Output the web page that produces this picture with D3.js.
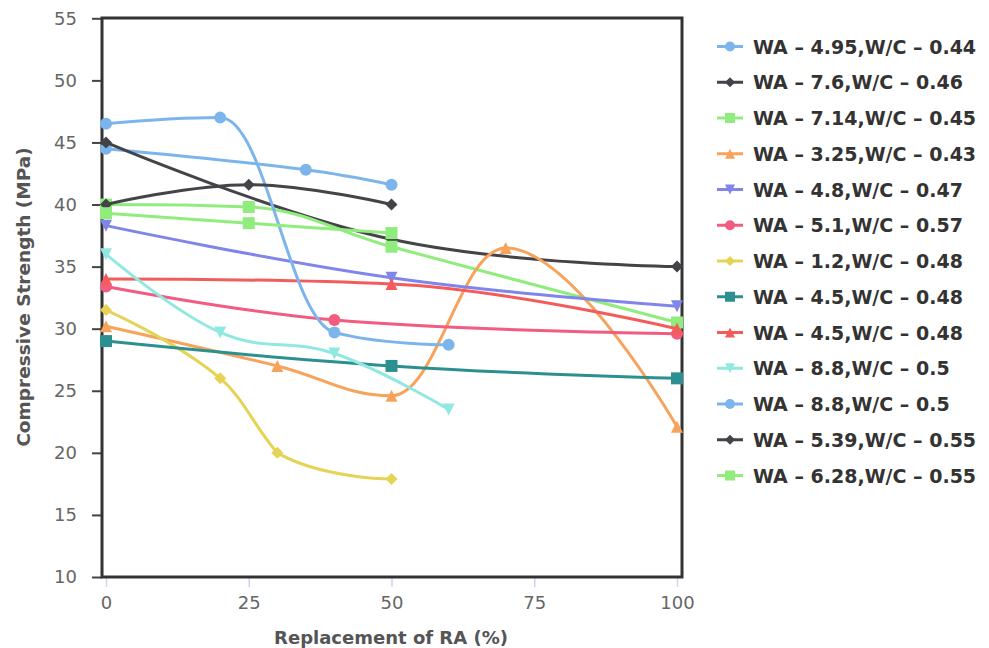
<!DOCTYPE html>
<html>
<head>
<meta charset="utf-8">
<script src="https://cdn.jsdelivr.net/npm/d3@7/dist/d3.min.js"></script>
<style>
  body { margin: 0; background: #fff; }
  text { font-family: "DejaVu Sans", sans-serif; }
</style>
</head>
<body>
<div id="chart"></div>
<script>
// series labels (legend order)
const seriesNames = [
  "WA – 4.95,W/C – 0.44",
  "WA – 7.6,W/C – 0.46",
  "WA – 7.14,W/C – 0.45",
  "WA – 3.25,W/C – 0.43",
  "WA – 4.8,W/C – 0.47",
  "WA – 5.1,W/C – 0.57",
  "WA – 1.2,W/C – 0.48",
  "WA – 4.5,W/C – 0.48",
  "WA – 4.5,W/C – 0.48",
  "WA – 8.8,W/C – 0.5",
  "WA – 8.8,W/C – 0.5",
  "WA – 5.39,W/C – 0.55",
  "WA – 6.28,W/C – 0.55",
];

// replacement of RA (%) per series
const raValues = [
  [0, 35, 50],
  [0, 50, 100],
  [0, 25, 50, 100],
  [0, 30, 50, 70, 100],
  [0, 50, 100],
  [0, 40, 100],
  [0, 20, 30, 50],
  [0, 50, 100],
  [0, 50, 100],
  [0, 20, 40, 60],
  [0, 20, 40, 60],
  [0, 25, 50],
  [0, 25, 50],
];

// compressive strength (MPa) per series
const strengthValues = [
  [44.5, 42.8, 41.6],
  [45, 37.2, 35],
  [40, 39.8, 36.6, 30.5],
  [30.2, 27, 24.6, 36.5, 22.1],
  [38.3, 34.1, 31.8],
  [33.4, 30.7, 29.6],
  [31.5, 26, 20, 17.9],
  [29, 27, 26],
  [34, 33.6, 30],
  [36, 29.7, 28, 23.5],
  [46.5, 47, 29.7, 28.7],
  [40, 41.6, 40],
  [39.3, 38.5, 37.7],
];

const xTicks = [0, 25, 50, 75, 100];
const yTicks = [10, 15, 20, 25, 30, 35, 40, 45, 50, 55];

const palette = ["#7cb5ec", "#434348", "#90ed7d", "#f7a35c", "#8085e9",
  "#f15c80", "#e4d354", "#2b908f", "#f45b5b", "#91e8e1"];
const symbolNames = ["circle", "diamond", "square", "triangle", "triangle-down"];

const W = 989, H = 648;
const plot = { left: 102, top: 18, right: 682, bottom: 577 };

const svg = d3.select("#chart").append("svg")
  .attr("width", W).attr("height", H)
  .attr("viewBox", [0, 0, W, H])
  .style("background-color", "white");

const x = d3.scaleLinear().domain([0, 100]).range([106, 677]);
const y = d3.scaleLinear().domain([10, 55]).range([plot.bottom, 18.3]);

// axes
const xAxis = svg.append("g").attr("transform", `translate(0,${plot.bottom})`)
  .call(d3.axisBottom(x).tickValues(xTicks).tickSize(10).tickPadding(9));
xAxis.select(".domain").remove();
xAxis.selectAll("line").attr("stroke", "#ccd6eb").attr("stroke-width", 1.5);
xAxis.selectAll("text").attr("fill", "#666").style("font-size", "18px");

const yAxis = svg.append("g").attr("transform", `translate(${plot.left},0)`)
  .call(d3.axisLeft(y).tickValues(yTicks).tickSize(10).tickPadding(15));
yAxis.select(".domain").remove();
yAxis.selectAll("line").attr("stroke", "#444").attr("stroke-width", 2);
yAxis.selectAll("text").attr("fill", "#666").style("font-size", "18px");

svg.append("rect")
  .attr("x", plot.left).attr("y", plot.top)
  .attr("width", plot.right - plot.left).attr("height", plot.bottom - plot.top)
  .attr("fill", "none").attr("stroke", "#333").attr("stroke-width", 3);

svg.append("text")
  .attr("x", 391).attr("y", 644)
  .attr("text-anchor", "middle")
  .attr("fill", "#555")
  .style("font-size", "18px").style("font-weight", 700)
  .text("Replacement of RA (%)");

svg.append("text")
  .attr("transform", "translate(30,297) rotate(-90)")
  .attr("text-anchor", "middle")
  .attr("fill", "#555")
  .style("font-size", "18.5px").style("font-weight", 700)
  .text("Compressive Strength (MPa)");

// highcharts-like spline with smoothing 1.5
function splinePath(pts) {
  const s = 1.5, denom = s + 1;
  const n = pts.length;
  const c = pts.map(p => ({ ...p }));
  for (let i = 1; i < n - 1; i++) {
    const p = c[i], last = pts[i - 1], next = pts[i + 1];
    let lcx = (s * p.x + last.x) / denom, lcy = (s * p.y + last.y) / denom;
    let rcx = (s * p.x + next.x) / denom, rcy = (s * p.y + next.y) / denom;
    if (rcx !== lcx) {
      const corr = ((rcy - lcy) * (rcx - p.x)) / (rcx - lcx) + p.y - rcy;
      lcy += corr; rcy += corr;
    }
    if (lcy > last.y && lcy > p.y) { lcy = Math.max(last.y, p.y); rcy = 2 * p.y - lcy; }
    else if (lcy < last.y && lcy < p.y) { lcy = Math.min(last.y, p.y); rcy = 2 * p.y - lcy; }
    if (rcy > next.y && rcy > p.y) { rcy = Math.max(next.y, p.y); lcy = 2 * p.y - rcy; }
    else if (rcy < next.y && rcy < p.y) { rcy = Math.min(next.y, p.y); lcy = 2 * p.y - rcy; }
    Object.assign(p, { lcx, lcy, rcx, rcy });
  }
  const path = d3.path();
  path.moveTo(c[0].x, c[0].y);
  for (let i = 1; i < n; i++) {
    const a = c[i - 1], b = c[i];
    path.bezierCurveTo(a.rcx ?? a.x, a.rcy ?? a.y, b.lcx ?? b.x, b.lcy ?? b.y, b.x, b.y);
  }
  return path.toString();
}

function symbolPath(kind, cx, cy, r) {
  const x0 = cx - r, y0 = cy - r, w = 2 * r;
  if (kind === "circle") {
    const p = d3.path();
    p.arc(cx, cy, r, 0, 2 * Math.PI);
    p.closePath();
    return p.toString();
  }
  if (kind === "square") return `M${x0},${y0}h${w}v${w}h${-w}Z`;
  if (kind === "diamond") return `M${cx},${y0}L${x0 + w},${cy}L${cx},${y0 + w}L${x0},${cy}Z`;
  if (kind === "triangle") return `M${cx},${y0}L${x0 + w},${y0 + w}L${x0},${y0 + w}Z`;
  return `M${x0},${y0}L${x0 + w},${y0}L${cx},${y0 + w}Z`;
}

const series = seriesNames.map((name, i) => ({
  name,
  color: palette[i % palette.length],
  symbol: symbolNames[i % symbolNames.length],
  points: raValues[i].map((ra, j) => ({ x: x(ra), y: y(strengthValues[i][j]) })),
}));

const groups = svg.selectAll("g.series").data(series).join("g").attr("class", "series");
groups.append("path")
  .attr("d", d => splinePath(d.points))
  .attr("fill", "none")
  .attr("stroke", d => d.color)
  .attr("stroke-width", 3)
  .attr("stroke-linejoin", "round")
  .attr("stroke-linecap", "round");
groups.selectAll("path.marker")
  .data(d => d.points.map(p => ({ ...p, color: d.color, symbol: d.symbol })))
  .join("path").attr("class", "marker")
  .attr("d", p => symbolPath(p.symbol, p.x, p.y, 6))
  .attr("fill", p => p.color);

// legend
const legend = svg.append("g");
const items = legend.selectAll("g").data(series).join("g")
  .attr("transform", (d, i) => `translate(0,${46.5 + i * 35.75})`);
items.append("line")
  .attr("x1", 717).attr("x2", 743)
  .attr("stroke", d => d.color).attr("stroke-width", 3);
items.append("path")
  .attr("d", d => symbolPath(d.symbol, 730, 0, 5))
  .attr("fill", d => d.color);
items.append("text")
  .attr("x", 753).attr("y", 7)
  .attr("fill", "#333")
  .style("font-size", "19px").style("font-weight", 700)
  .text(d => d.name);
</script>
</body>
</html>
